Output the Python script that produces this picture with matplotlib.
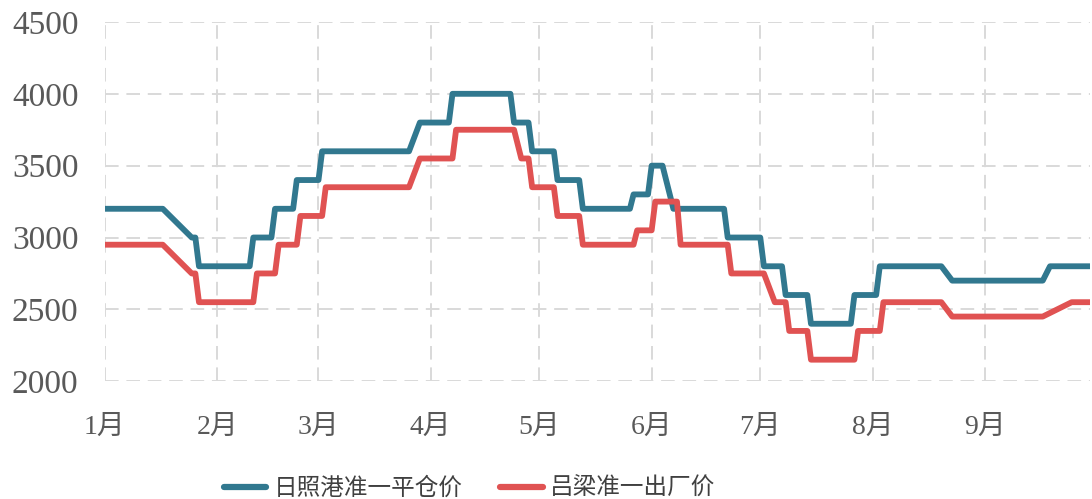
import pandas as pd
import matplotlib
matplotlib.use("Agg")
import matplotlib.pyplot as plt

# ---- data (breakpoints of the price series) ----
rizhao_dates = [
    "2022-01-01", "2022-01-17", "2022-01-25", "2022-01-26", "2022-01-27",
    "2022-02-10", "2022-02-11", "2022-02-16", "2022-02-17", "2022-02-22",
    "2022-02-23", "2022-03-01", "2022-03-02", "2022-03-26", "2022-03-29",
    "2022-04-06", "2022-04-07", "2022-04-23", "2022-04-24", "2022-04-28",
    "2022-04-29", "2022-05-05", "2022-05-06", "2022-05-12", "2022-05-13",
    "2022-05-26", "2022-05-27", "2022-05-31", "2022-06-01", "2022-06-04",
    "2022-06-07", "2022-06-21", "2022-06-22", "2022-07-01", "2022-07-02",
    "2022-07-07", "2022-07-08", "2022-07-14", "2022-07-15", "2022-07-26",
    "2022-07-27", "2022-08-02", "2022-08-03", "2022-08-20", "2022-08-23",
    "2022-09-17", "2022-09-19", "2022-09-30",
]
rizhao_price = [
    3200, 3200, 3000, 3000, 2800,
    2800, 3000, 3000, 3200, 3200,
    3400, 3400, 3600, 3600, 3800,
    3800, 4000, 4000, 3800, 3800,
    3600, 3600, 3400, 3400, 3200,
    3200, 3300, 3300, 3500, 3500,
    3200, 3200, 3000, 3000, 2800,
    2800, 2600, 2600, 2400, 2400,
    2600, 2600, 2800, 2800, 2700,
    2700, 2800, 2800,
]

lvliang_dates = [
    "2022-01-01", "2022-01-17", "2022-01-25", "2022-01-26", "2022-01-27",
    "2022-02-11", "2022-02-12", "2022-02-17", "2022-02-18", "2022-02-23",
    "2022-02-24", "2022-03-02", "2022-03-03", "2022-03-26", "2022-03-29",
    "2022-04-07", "2022-04-08", "2022-04-24", "2022-04-26", "2022-04-28",
    "2022-04-29", "2022-05-05", "2022-05-06", "2022-05-12", "2022-05-13",
    "2022-05-27", "2022-05-28", "2022-06-01", "2022-06-02", "2022-06-08",
    "2022-06-09", "2022-06-22", "2022-06-23", "2022-07-02", "2022-07-05",
    "2022-07-08", "2022-07-09", "2022-07-14", "2022-07-15", "2022-07-27",
    "2022-07-28", "2022-08-03", "2022-08-04", "2022-08-20", "2022-08-23",
    "2022-09-17", "2022-09-25", "2022-09-30",
]
lvliang_price = [
    2950, 2950, 2750, 2750, 2550,
    2550, 2750, 2750, 2950, 2950,
    3150, 3150, 3350, 3350, 3550,
    3550, 3750, 3750, 3550, 3550,
    3350, 3350, 3150, 3150, 2950,
    2950, 3050, 3050, 3250, 3250,
    2950, 2950, 2750, 2750, 2550,
    2550, 2350, 2350, 2150, 2150,
    2350, 2350, 2550, 2550, 2450,
    2450, 2550, 2550,
]

series_names = ["日照港准一平仓价", "吕梁准一出厂价"]
series_colors = ["#31788F", "#E05252"]

# ---- figure ----
fig = plt.figure(figsize=(10.92, 4.99), dpi=100)
ax = fig.add_axes([0.096, 0.236, 0.902, 0.72])

ax.plot(pd.to_datetime(rizhao_dates), rizhao_price, color=series_colors[0],
        linewidth=4.2, label=series_names[0], solid_joinstyle="round", zorder=3)
ax.plot(pd.to_datetime(lvliang_dates), lvliang_price, color=series_colors[1],
        linewidth=4.2, label=series_names[1], solid_joinstyle="round", zorder=3)

ax.set_xlim(pd.Timestamp("2022-01-01"), pd.Timestamp("2022-09-30"))
ax.set_ylim(2000, 4500)
ax.set_yticks(range(2000, 4501, 500))

month_ticks = pd.date_range("2022-01-01", "2022-09-01", freq="MS")
ax.set_xticks(month_ticks)
ax.set_xticklabels([f"{m.month}月" for m in month_ticks],
                   family=["Liberation Serif", "Noto Sans CJK SC"], fontsize=20)
for lab in ax.get_yticklabels():
    lab.set_family("Liberation Serif")
    lab.set_fontsize(24)

ax.tick_params(axis="both", length=0, colors="#595959")
ax.tick_params(axis="y", pad=19)
ax.tick_params(axis="x", pad=24)

for s in ax.spines.values():
    s.set_visible(False)

ax.grid(True, color="#D9D9D9", linestyle=(0, (7, 4)), linewidth=1.4, zorder=0)

leg = fig.legend(loc="lower center", bbox_to_anchor=(0.43, -0.045), ncol=2,
                 frameon=False, handlelength=1.8, columnspacing=1.6,
                 handletextpad=0.3,
                 prop={"family": "Noto Sans CJK SC", "size": 17})
for t in leg.get_texts():
    t.set_color("#404040")
for h in leg.get_lines():
    h.set_solid_capstyle("round")
    h.set_linewidth(4.5)

fig.savefig("out.png", dpi=100)
